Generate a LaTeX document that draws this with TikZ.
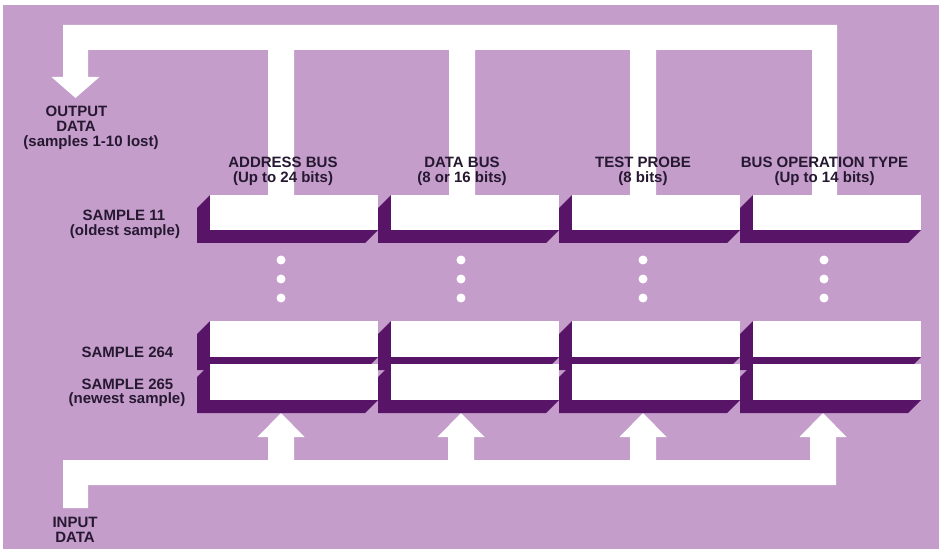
\documentclass[tikz,border=0pt]{standalone}
\usepackage{fontspec}
\setmainfont{Liberation Sans}
\usetikzlibrary{calc}
\definecolor{lilac}{RGB}{196,157,203}
\definecolor{boxside}{RGB}{88,20,102}
\definecolor{ink}{RGB}{38,24,48}
\tikzset{
  cell/.style={fill=white, inner sep=0pt, minimum width=168pt},
  bus/.style={fill=white},
  lbl/.style={text=ink, font=\fontsize{15}{15}\selectfont\bfseries, inner sep=0pt, anchor=base},
  dot/.style={fill=white}
}
\begin{document}
\begin{tikzpicture}[x=1pt,y=-1pt]
\useasboundingbox (0,0) rectangle (939,553);
\fill[lilac] (3,5) rectangle (939,549);

% output bus
\fill[bus] (63,25) -- (837,25) -- (837,196) -- (812,196) -- (812,50)
  -- (656,50) -- (656,196) -- (630,196) -- (630,50)
  -- (475,50) -- (475,196) -- (449,196) -- (449,50)
  -- (294,50) -- (294,196) -- (268,196) -- (268,50)
  -- (88,50) -- (88,77) -- (99.5,77) -- (75.5,98) -- (51.5,77) -- (63,77) -- cycle;

% input bus
\fill[bus] (63,508) -- (63,460)
  -- (268,460) -- (268,437) -- (257.5,437) -- (281,413) -- (304.5,437) -- (294,437) -- (294,460)
  -- (448,460) -- (448,437) -- (437.5,437) -- (461,413) -- (484.5,437) -- (474,437) -- (474,460)
  -- (630,460) -- (630,437) -- (619.5,437) -- (643,413) -- (666.5,437) -- (656,437) -- (656,460)
  -- (810,460) -- (810,437) -- (799.5,437) -- (823,413) -- (846.5,437) -- (836,437) -- (836,485)
  -- (88,485) -- (88,508) -- cycle;

% register cells
\foreach \c/\x in {1/210,2/391,3/572,4/753}{
  \foreach \r/\ya/\yb in {a/195/230,b/321/357,c/364/400}{
    \fill[boxside] (\x-13,\ya+13) -- (\x,\ya) -- (\x,\yb) -- (\x+168,\yb)
      -- (\x+155,\yb+13) -- (\x-13,\yb+13) -- cycle;
    \node[cell, minimum height={(\yb-\ya)*1pt}] (cell\r\c) at (\x+84,{(\ya+\yb)/2}) {};
  }
}

% dots
\foreach \cx in {281,461,643,824}{
  \foreach \dy in {260,279,298}{
    \fill[dot] (\cx,\dy) circle[radius=4.5];
  }
}

% labels
\node[lbl] (out1) at (76.5,117) {OUTPUT};
\node[lbl] (out2) at (76,132) {DATA};
\node[lbl] (out3) at (91,146.5) {(samples 1-10 lost)};

\node[lbl] (h1a) at (283,168) {ADDRESS BUS};
\node[lbl] (h1b) at (283,183) {(Up to 24 bits)};
\node[lbl] (h2a) at (462,168) {DATA BUS};
\node[lbl] (h2b) at (462,183) {(8 or 16 bits)};
\node[lbl] (h3a) at (643,168) {TEST PROBE};
\node[lbl] (h3b) at (643,183) {(8 bits)};
\node[lbl] (h4a) at (824.5,168) {BUS OPERATION TYPE};
\node[lbl] (h4b) at (824.5,183) {(Up to 14 bits)};

\node[lbl] (s11a) at (124,221) {SAMPLE 11};
\node[lbl] (s11b) at (125,235.5) {(oldest sample)};
\node[lbl] (s264) at (127.5,357) {SAMPLE 264};
\node[lbl] (s265a) at (127.5,389) {SAMPLE 265};
\node[lbl] (s265b) at (127,403.5) {(newest sample)};

\node[lbl] (in1) at (75,527) {INPUT};
\node[lbl] (in2) at (75,542) {DATA};
\end{tikzpicture}
\end{document}
